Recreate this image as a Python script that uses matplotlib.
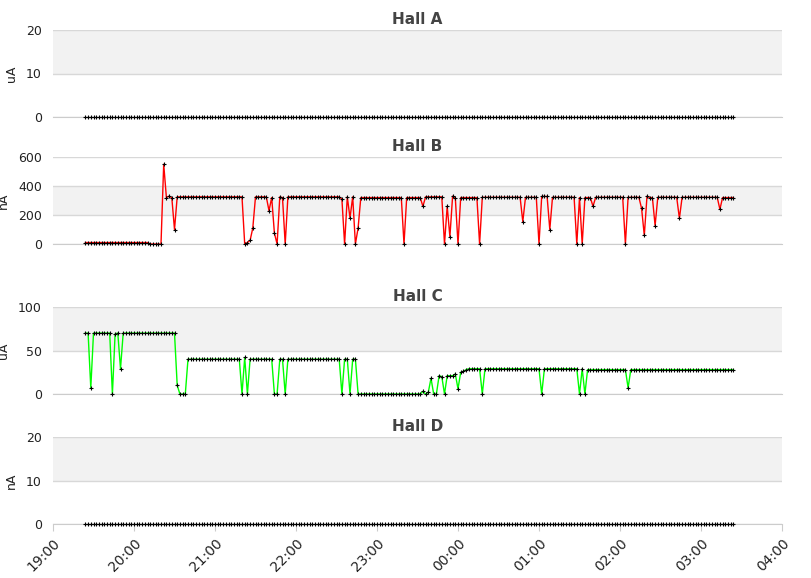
import matplotlib
matplotlib.use("Agg")
import matplotlib.pyplot as plt

# time: minutes after 19:00, samples every 2 minutes from 19:24 to 03:24
start_min = 24
step_min = 2
n_points = 241

def runs(pairs):
    out = []
    for cnt, v in pairs:
        out += [v] * cnt
    return out

hall_a = runs([(241, 0)])
hall_d = runs([(241, 0)])

hall_b = runs([
    (24, 10), (5, 0), (1, 550), (1, 320), (1, 330), (1, 320), (1, 100),
    (25, 325), (1, 0), (1, 10), (1, 25), (1, 110), (5, 325), (1, 230), (1, 320),
    (1, 75), (1, 0), (1, 325), (1, 320), (1, 0), (20, 325), (1, 310), (1, 0),
    (1, 325), (1, 180), (1, 325), (1, 0), (1, 110), (16, 320), (1, 0),
    (6, 320), (1, 260), (7, 325), (1, 0), (1, 260), (1, 50), (1, 330), (1, 320),
    (1, 0), (7, 320), (1, 0), (15, 322), (1, 154), (5, 322), (1, 0), (3, 328),
    (1, 100), (9, 322), (1, 0), (1, 320), (1, 0), (3, 320), (1, 260), (11, 322),
    (1, 0), (5, 322), (1, 245), (1, 59), (1, 330), (2, 320), (1, 127),
    (8, 322), (1, 177), (14, 322), (1, 240), (5, 320),
])

hall_c = runs([
    (2, 70), (1, 7), (7, 70), (1, 0), (1, 69), (1, 70), (1, 29), (20, 70),
    (1, 10), (3, 0), (20, 40), (1, 0), (1, 42), (1, 0), (9, 40), (2, 0),
    (2, 40), (1, 0), (20, 40), (1, 0), (2, 40), (1, 0), (2, 40),
    (24, 0), (1, 3), (1, 0), (1, 2), (1, 18), (2, 0), (1, 21), (1, 20), (1, 0),
    (3, 21), (1, 23), (1, 6), (1, 25), (1, 26), (1, 28), (5, 29), (1, 0),
    (21, 29), (1, 0), (13, 29), (1, 0), (1, 29), (1, 0), (15, 28), (1, 7),
    (39, 28),
])

times = [start_min + i * step_min for i in range(n_points)]
tick_pos = [60 * h for h in range(10)]
tick_labels = ["19:00", "20:00", "21:00", "22:00", "23:00", "00:00", "01:00",
               "02:00", "03:00", "04:00"]

panels = [
    ("Hall A", "uA", hall_a, [0, 10, 20], "#aaaaaa"),
    ("Hall B", "nA", hall_b, [0, 200, 400, 600], "#ff0000"),
    ("Hall C", "uA", hall_c, [0, 50, 100], "#00ff00"),
    ("Hall D", "nA", hall_d, [0, 10, 20], "#aaaaaa"),
]
bottoms_px = [117, 244, 394, 524]

fig = plt.figure(figsize=(8.11, 5.78), dpi=100)
for k, (title, unit, vals, yt, col) in enumerate(panels):
    ax = fig.add_axes([53 / 811, 1 - bottoms_px[k] / 578, 729 / 811, 87 / 578])
    ax.set_xlim(0, 540)
    ax.set_ylim(yt[0], yt[-1])
    for j in range(len(yt) - 1):
        if j % 2 == 1:
            ax.axhspan(yt[j], yt[j + 1], color="#f2f2f2", zorder=0, lw=0)
    for y in yt:
        ax.axhline(y, color="#d8d8d8", lw=1, zorder=1)
    ax.plot(times, vals, color=col, lw=1, zorder=2, clip_on=False)
    ax.plot(times, vals, ls="none", marker="+", ms=3, mew=0.8, color="black",
            zorder=3, clip_on=False)
    for s in ["left", "top", "right"]:
        ax.spines[s].set_visible(False)
    ax.spines["bottom"].set_color("#cccccc")
    ax.set_yticks(yt)
    ax.tick_params(axis="y", length=0, labelsize=9, colors="#222222", pad=8)
    ax.set_ylabel(unit, fontsize=9, color="#222222", labelpad=6)
    ax.set_title(title, fontsize=11, fontweight="bold", color="#444444", pad=4)
    ax.set_xticks(tick_pos)
    if k == 3:
        ax.set_xticklabels(tick_labels, rotation=45, ha="right", rotation_mode="anchor",
                           fontsize=10, color="#222222")
        ax.tick_params(axis="x", color="#cccccc", length=5)
    else:
        ax.tick_params(axis="x", length=0, labelbottom=False)

fig.savefig("out.png", dpi=100)
